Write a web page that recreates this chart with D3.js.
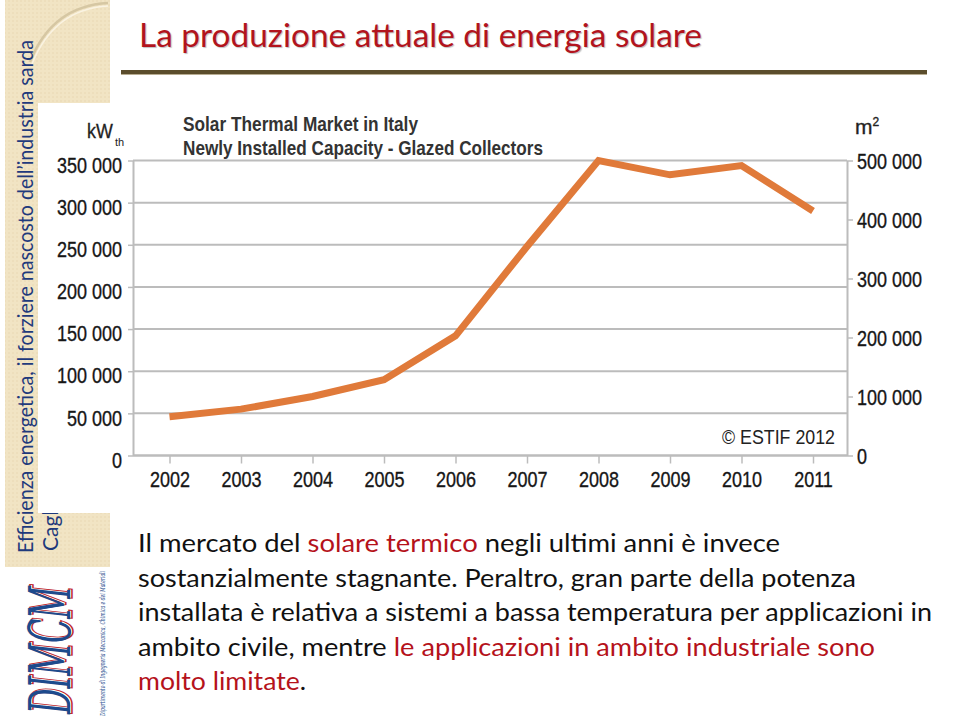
<!DOCTYPE html>
<html><head><meta charset="utf-8">
<script src="https://cdn.jsdelivr.net/npm/d3@7"></script>
<style>
html,body{margin:0;padding:0;background:#fff;}
svg{display:block;}
</style></head>
<body>
<script>
// ---- data ----
const years = ["2002","2003","2004","2005","2006","2007","2008","2009","2010","2011"];
const capacityKW = [46000, 55000, 70000, 90000, 142000, 248000, 350000, 333000, 344000, 290000];
const leftTicks = [0, 50000, 100000, 150000, 200000, 250000, 300000, 350000];
const rightTicks = [0, 100000, 200000, 300000, 400000, 500000];
const pageTitle = "La produzione attuale di energia solare";
const chartTitle = ["Solar Thermal Market in Italy", "Newly Installed Capacity - Glazed Collectors"];
const sidebarText = "Efficienza energetica, il forziere nascosto dell\u2019industria sarda";
const bodyLines = [
  [["Il mercato del ", 0], ["solare termico", 1], [" negli ultimi anni è invece", 0]],
  [["sostanzialmente stagnante. Peraltro, gran parte della potenza", 0]],
  [["installata è relativa a sistemi a bassa temperatura per applicazioni in", 0]],
  [["ambito civile, mentre ", 0], ["le applicazioni in ambito industriale sono", 1]],
  [["molto limitate", 1], [".", 0]]
];
const bodyWidths = [642, 718, 794, 737, 168];

const W = 959, H = 718;
const svg = d3.select("body").append("svg").attr("width", W).attr("height", H);
svg.append("rect").attr("width", W).attr("height", H).attr("fill", "#fff");

function condense(sel, f) {
  sel.each(function () {
    const len = this.getComputedTextLength();
    d3.select(this).attr("textLength", len * f).attr("lengthAdjust", "spacingAndGlyphs");
  });
}

// ---- sidebar ----
const beige = "#f1e4c4";
const defs = svg.append("defs");
const pat = defs.append("pattern").attr("id", "dots").attr("width", 4).attr("height", 4).attr("patternUnits", "userSpaceOnUse");
pat.append("rect").attr("width", 4).attr("height", 4).attr("fill", beige);
pat.append("circle").attr("cx", 1).attr("cy", 1).attr("r", 0.8).attr("fill", "#e8d8b2");
svg.append("rect").attr("x", 5).attr("y", 0).attr("width", 105).attr("height", 567).attr("fill", "url(#dots)");
svg.append("path").attr("d", "M30,62 Q52,6 108,3").attr("fill", "none").attr("stroke", "#d6c7a3").attr("stroke-width", 2.5);
svg.append("path").attr("d", "M32,64 Q54,9 108,6").attr("fill", "none").attr("stroke", "#faf3e2").attr("stroke-width", 1.5);

svg.append("text")
  .attr("transform", "translate(33,553) rotate(-90)")
  .attr("font-family", "Lato, 'Open Sans', sans-serif")
  .attr("font-size", 21).attr("fill", "#1f3a7c")
  .attr("textLength", 513).attr("lengthAdjust", "spacingAndGlyphs")
  .text(sidebarText);
svg.append("text")
  .attr("transform", "translate(58,551) rotate(-90)")
  .attr("font-family", "Lato, 'Open Sans', sans-serif")
  .attr("font-size", 21).attr("fill", "#1f3a7c")
  .text("Cagliari");

svg.append("rect").attr("x", 38).attr("y", 103).attr("width", 917).attr("height", 410).attr("fill", "#fff");

// ---- logo ----
const logo = svg.append("g");
logo.append("text")
  .attr("transform", "translate(72,713) rotate(-90)")
  .attr("font-family", "'DejaVu Serif', serif").attr("font-style", "italic")
  .attr("font-size", 58).attr("fill", "none").attr("stroke", "#c0282d").attr("stroke-width", 1.5)
  .attr("textLength", 128).attr("lengthAdjust", "spacingAndGlyphs")
  .text("DIMCM");
logo.append("text")
  .attr("transform", "translate(70,714) rotate(-90)")
  .attr("font-family", "'DejaVu Serif', serif").attr("font-style", "italic")
  .attr("font-size", 58).attr("fill", "#1d4a8c")
  .attr("textLength", 128).attr("lengthAdjust", "spacingAndGlyphs")
  .text("DIMCM");
logo.append("text")
  .attr("transform", "translate(105,716) rotate(-90)")
  .attr("font-family", "'DejaVu Serif', serif").attr("font-style", "italic")
  .attr("font-size", 8).attr("fill", "#1d4a8c")
  .attr("textLength", 145).attr("lengthAdjust", "spacingAndGlyphs")
  .text("Dipartimento di Ingegneria Meccanica, Chimica e dei Materiali");

// ---- page title ----
svg.append("text").attr("x", 139).attr("y", 47)
  .attr("font-family", "Lato, 'Open Sans', sans-serif").attr("font-size", 33)
  .attr("fill", "#b2141d").attr("textLength", 563).attr("lengthAdjust", "spacingAndGlyphs")
  .style("text-shadow", "1px 1px 1px rgba(0,0,0,0.25)")
  .text(pageTitle);
svg.append("rect").attr("x", 121).attr("y", 70).attr("width", 806).attr("height", 4).attr("fill", "#5b4d2c");
svg.append("rect").attr("x", 121).attr("y", 74).attr("width", 806).attr("height", 1).attr("fill", "#b8ad92");

// ---- chart ----
const sans = "'Liberation Sans', Arial, sans-serif";
const x0 = 133, x1 = 847, yTop = 160.5, yBot = 455.5;
const x = d3.scalePoint().domain(years).range([169.5, 813]);
const yL = d3.scaleLinear().domain([0, 350000]).range([yBot, yTop]);
const yR = d3.scaleLinear().domain([0, 500000]).range([yBot, yTop]);
const fmt = d3.formatLocale({decimal: ",", thousands: " ", grouping: [3], currency: ["", ""]}).format(",");
const grid = "#bcbcbc";

svg.append("g").selectAll("line").data(leftTicks).join("line")
  .attr("x1", x0).attr("x2", x1).attr("y1", d => yL(d)).attr("y2", d => yL(d))
  .attr("stroke", grid).attr("stroke-width", 2);

const gL = svg.append("g").attr("transform", `translate(${x0},0)`)
  .call(d3.axisLeft(yL).tickValues(leftTicks).tickFormat(fmt).tickSize(5).tickSizeOuter(0).tickPadding(6));
const gR = svg.append("g").attr("transform", `translate(${x1},0)`)
  .call(d3.axisRight(yR).tickValues(rightTicks).tickFormat(fmt).tickSize(6).tickSizeOuter(0).tickPadding(4));
const gB = svg.append("g").attr("transform", `translate(0,${yBot})`)
  .call(d3.axisBottom(x).tickSize(8).tickSizeOuter(0).tickPadding(8));
gB.select(".domain").attr("d", `M${x0},0H${x1}`);

[gL, gR, gB].forEach(g => {
  g.select(".domain").attr("stroke", grid).attr("stroke-width", 2);
  g.selectAll(".tick line").attr("stroke", grid).attr("stroke-width", 1.5);
  g.selectAll(".tick text").attr("font-family", sans).attr("font-size", 22.5)
    .attr("fill", "#161616").attr("stroke", "#161616").attr("stroke-width", 0.35);
  condense(g.selectAll(".tick text"), 0.8);
});
gL.selectAll(".tick text").attr("dy", "0.52em");
gR.selectAll(".tick text").attr("dy", "0.36em");

svg.append("path").datum(capacityKW)
  .attr("d", d3.line().x((d, i) => x(years[i])).y(d => yL(d)))
  .attr("fill", "none").attr("stroke", "#e07a3a").attr("stroke-width", 7)
  .attr("stroke-linejoin", "miter").attr("stroke-linecap", "butt");

chartTitle.forEach((t, i) => {
  svg.append("text").attr("x", 183).attr("y", 131 + i * 24)
    .attr("font-family", sans).attr("font-weight", "bold").attr("font-size", 20.5).attr("fill", "#333")
    .attr("textLength", i === 0 ? 235 : 360).attr("lengthAdjust", "spacingAndGlyphs")
    .text(t);
});
// axis units
svg.append("text").attr("transform", "translate(87,138) scale(0.85,1)").attr("font-family", sans)
  .attr("font-size", 21).attr("fill", "#222").attr("stroke", "#222").attr("stroke-width", 0.35)
  .text("kW");
svg.append("text").attr("x", 115).attr("y", 146).attr("font-family", sans)
  .attr("font-size", 11).attr("fill", "#222").text("th");
const m2 = svg.append("text").attr("x", 855).attr("y", 134).attr("font-family", sans)
  .attr("font-size", 21).attr("fill", "#222").attr("stroke", "#222").attr("stroke-width", 0.35);
m2.append("tspan").text("m");
m2.append("tspan").attr("font-size", 12).attr("dy", -8).text("2");

svg.append("text").attr("x", 835).attr("y", 444).attr("text-anchor", "end")
  .attr("font-family", sans).attr("font-size", 21).attr("fill", "#222")
  .attr("textLength", 113).attr("lengthAdjust", "spacingAndGlyphs")
  .text("© ESTIF 2012");

// ---- body text ----
bodyLines.forEach((parts, i) => {
  const t = svg.append("text").attr("x", 138).attr("y", 552 + i * 34.6)
    .attr("font-family", "Lato, 'Open Sans', sans-serif").attr("font-size", 25)
    .attr("textLength", bodyWidths[i]).attr("lengthAdjust", "spacingAndGlyphs");
  parts.forEach(([s, red]) => t.append("tspan").attr("fill", red ? "#b5121b" : "#111").text(s));
});
</script>
</body></html>
